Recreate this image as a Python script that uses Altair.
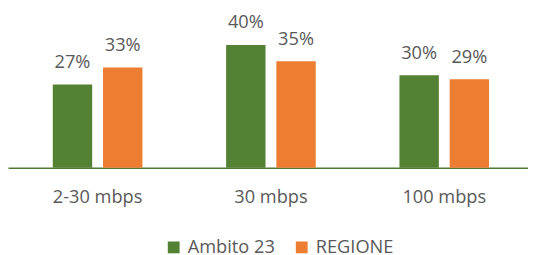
import altair as alt
import pandas as pd

categories = ["2-30 mbps", "30 mbps", "100 mbps"]
series = ["Ambito 23", "REGIONE"]
ambito = [27.2, 40.1, 30.2]
regione = [32.7, 34.8, 28.9]
colors = ["#548235", "#ED7D31"]

rows = []
for i, c in enumerate(categories):
    for s, vals in zip(series, [ambito, regione]):
        rows.append({"cat": c, "series": s, "value": vals[i],
                     "label": f"{round(vals[i])}%"})
df = pd.DataFrame(rows)

FONT = "Open Sans"
GRAY = "#595959"

x = alt.X("cat:N", sort=categories, title=None,
          scale=alt.Scale(paddingInner=0, paddingOuter=0),
          axis=alt.Axis(labelAngle=0, ticks=False, tickSize=0, labelPadding=35,
                        labelOffset=3,
                        labelBaseline="alphabetic", labelFont=FONT, labelFontSize=18.5,
                        labelColor=GRAY, domainColor="#507A33", domainWidth=1.5,
                        grid=False))
xo = alt.XOffset("series:N", sort=series,
                 scale=alt.Scale(paddingInner=0.2157, paddingOuter=0.8334, align=0.535))
y = alt.Y("value:Q", scale=alt.Scale(domain=[0, 50]), axis=None)

bars = alt.Chart(df).mark_bar().encode(
    x=x, xOffset=xo, y=y,
    color=alt.Color("series:N", sort=series,
                    scale=alt.Scale(domain=series, range=colors),
                    legend=alt.Legend(title=None, orient="none", direction="horizontal",
                                      legendX=159, legendY=227, symbolType="square",
                                      symbolSize=144, symbolStrokeWidth=0,
                                      labelFont=FONT, labelFontSize=18.5, labelColor=GRAY,
                                      labelOffset=5, columnPadding=18)),
)

text = alt.Chart(df).mark_text(baseline="alphabetic", dy=-16.7, font=FONT,
                               fontSize=18.5, color=GRAY).encode(
    x=x, xOffset=xo, y=y, text="label:N")

chart = (bars + text).properties(
    width=528, height=155.5,
    autosize=alt.AutoSizeParams(type="none"),
    padding={"left": 0, "top": 4.8, "right": 0, "bottom": 86.7},
).configure_view(stroke=None)

chart.save("out.html", embed_options={"renderer": "svg", "actions": False})
